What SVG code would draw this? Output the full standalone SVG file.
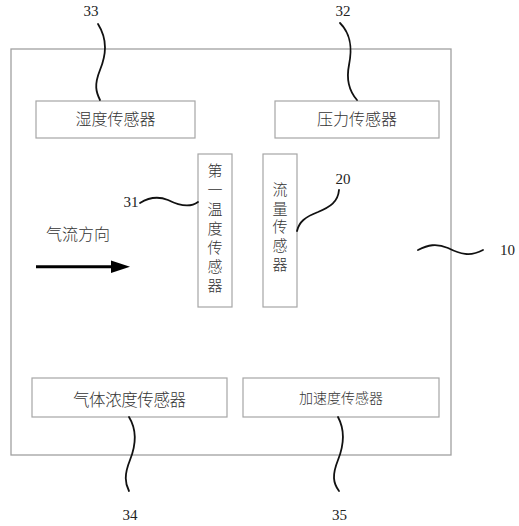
<svg xmlns="http://www.w3.org/2000/svg" width="519" height="526" viewBox="0 0 519 526">
<style>
.box{fill:#fff;stroke:#a6a6a6;stroke-width:1.2}
.frame{fill:none;stroke:#a0a0a0;stroke-width:1.3}
.lead{fill:none;stroke:#111;stroke-width:1.8;stroke-linecap:round}
.cn{font-family:"Noto Sans CJK SC","Noto Sans CJK JP",sans-serif;fill:#333;font-weight:300}
.vt{writing-mode:vertical-rl;text-orientation:upright}
.num{font-family:"Liberation Serif",serif;font-size:15px;fill:#222;text-anchor:middle}
</style>
<rect width="519" height="526" fill="#fff"/>
<g id="housing-10">
<rect class="frame" x="11" y="49" width="440" height="406"/>
</g>
<g id="humidity-33">
<rect class="box" x="36" y="101" width="159" height="37"/>
<text class="cn" x="115.5" y="125" font-size="16" text-anchor="middle">湿度传感器</text>
</g>
<g id="pressure-32">
<rect class="box" x="275" y="101" width="164" height="37"/>
<text class="cn" x="357" y="125" font-size="16" text-anchor="middle">压力传感器</text>
</g>
<g id="temp-31">
<rect class="box" x="198" y="154" width="34" height="153"/>
<text class="cn vt" x="215" y="163" font-size="15" letter-spacing="4.2">第一温度传感器</text>
</g>
<g id="flow-20">
<rect class="box" x="263" y="154" width="34" height="153"/>
<text class="cn vt" x="280" y="182" font-size="15" letter-spacing="3.6">流量传感器</text>
</g>
<g id="gas-34">
<rect class="box" x="32" y="378" width="195" height="39"/>
<text class="cn" x="73" y="405.5" font-size="16.5" textLength="113" lengthAdjust="spacing">气体浓度传感器</text>
</g>
<g id="accel-35">
<rect class="box" x="243" y="378" width="196" height="39"/>
<text class="cn" x="341" y="403" font-size="14" text-anchor="middle">加速度传感器</text>
</g>
<g id="airflow">
<text class="cn" x="46" y="240" font-size="16">气流方向</text>
<line x1="36" y1="266.7" x2="113" y2="266.7" stroke="#000" stroke-width="3"/>
<polygon points="111,260.5 130,266.7 111,273" fill="#000"/>
</g>
<g id="connectors">
<path class="lead" d="M98,24 C108,40 106,55 100,70 C94,85 96,92 100,100"/>
<path class="lead" d="M340,23 C352,35 352,50 349,65 C346,80 350,92 357,100"/>
<path class="lead" d="M140,203 C148,198 158,196 168,200 C178,205 190,208 198,202"/>
<path class="lead" d="M339,190 C338,202 330,207 318,212 C305,217 299,222 297,231"/>
<path class="lead" d="M418,250 C428,245 436,243 448,248 C460,254 470,257 483,250"/>
<path class="lead" d="M129,417 C137,430 136,445 130,460 C124,475 125,483 129,491"/>
<path class="lead" d="M338,417 C345,430 344,445 338,460 C332,475 333,483 339,491"/>
</g>
<g id="labels">
<text class="num" x="91" y="16">33</text>
<text class="num" x="343" y="16">32</text>
<text class="num" x="131" y="207">31</text>
<text class="num" x="343" y="183.5">20</text>
<text class="num" x="507.5" y="255">10</text>
<text class="num" x="130" y="520">34</text>
<text class="num" x="339.5" y="520">35</text>
</g>
</svg>
